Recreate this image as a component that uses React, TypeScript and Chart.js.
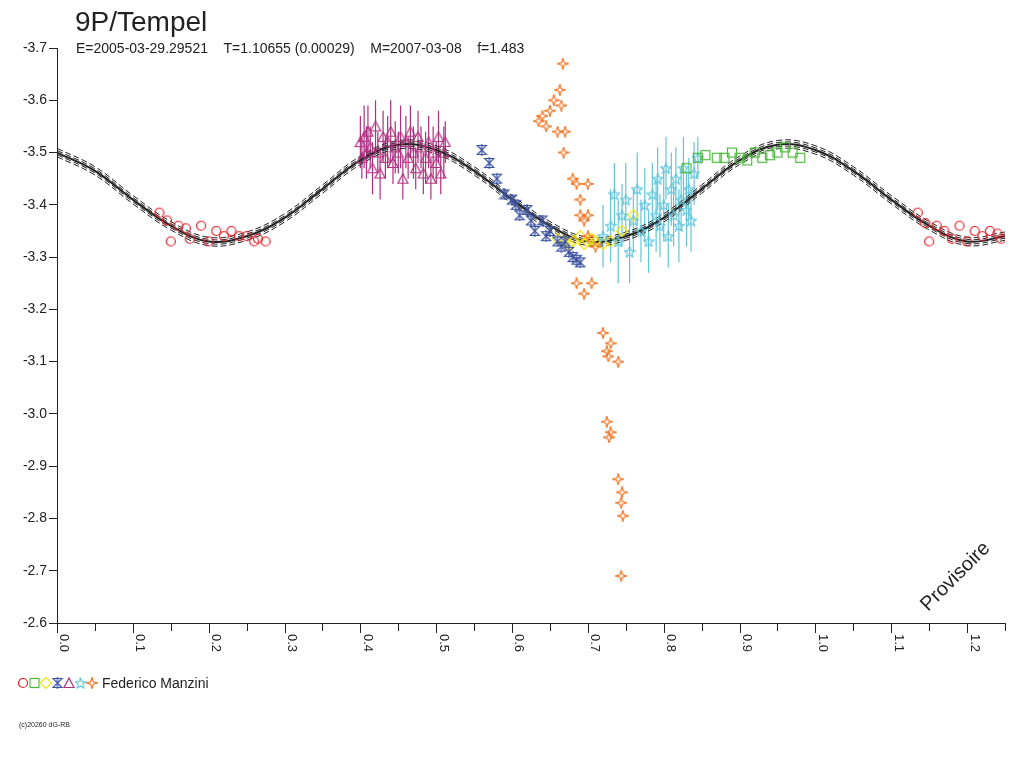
import React, { useEffect, useRef } from "react";
import { Chart, registerables } from "chart.js";
Chart.register(...registerables);

const modelX = [0,0.05,0.1,0.15,0.2,0.25,0.3,0.35,0.4,0.45,0.5,0.55,0.6,0.65,0.7,0.75,0.8,0.85,0.9,0.95,1.0,1.05,1.1,1.15,1.2,1.25];
const modelY = [-3.5,-3.465,-3.41,-3.36,-3.33,-3.34,-3.375,-3.43,-3.485,-3.515,-3.505,-3.465,-3.41,-3.36,-3.33,-3.34,-3.375,-3.43,-3.485,-3.515,-3.505,-3.465,-3.41,-3.36,-3.33,-3.34];
const modelSpread = [0.008, -0.008, 0.004, -0.004, 0];

const redX = [0.135,0.145,0.15,0.16,0.17,0.175,0.19,0.2,0.21,0.22,0.23,0.24,0.25,0.26,0.265,0.275,1.135,1.145,1.15,1.16,1.17,1.18,1.19,1.2,1.21,1.22,1.23,1.24,1.245];
const redY = [-3.385,-3.37,-3.33,-3.36,-3.355,-3.335,-3.36,-3.33,-3.35,-3.34,-3.35,-3.34,-3.34,-3.33,-3.335,-3.33,-3.385,-3.365,-3.33,-3.36,-3.35,-3.335,-3.36,-3.33,-3.35,-3.34,-3.35,-3.345,-3.335];
const greenX = [0.83,0.845,0.855,0.87,0.88,0.89,0.9,0.91,0.92,0.93,0.94,0.95,0.96,0.97,0.98];
const greenY = [-3.47,-3.49,-3.495,-3.49,-3.49,-3.5,-3.49,-3.485,-3.5,-3.49,-3.495,-3.5,-3.51,-3.5,-3.49];
const yellowX = [0.66,0.67,0.675,0.68,0.69,0.695,0.7,0.705,0.71,0.72,0.73,0.745,0.76];
const yellowY = [-3.335,-3.33,-3.325,-3.33,-3.34,-3.325,-3.33,-3.335,-3.33,-3.325,-3.33,-3.35,-3.38];
const blueX = [0.56,0.57,0.58,0.59,0.6,0.605,0.61,0.62,0.625,0.63,0.64,0.645,0.65,0.66,0.665,0.67,0.675,0.68,0.685,0.69];
const blueY = [-3.505,-3.48,-3.45,-3.42,-3.41,-3.4,-3.38,-3.39,-3.37,-3.35,-3.37,-3.34,-3.35,-3.33,-3.32,-3.33,-3.31,-3.3,-3.295,-3.29];
const magX = [0.4,0.402,0.405,0.408,0.41,0.413,0.416,0.42,0.423,0.426,0.43,0.433,0.436,0.44,0.443,0.446,0.45,0.453,0.456,0.46,0.463,0.466,0.47,0.473,0.476,0.48,0.483,0.486,0.49,0.493,0.496,0.5,0.503,0.506,0.51,0.512];
const magY = [-3.52,-3.49,-3.53,-3.5,-3.54,-3.51,-3.47,-3.55,-3.5,-3.46,-3.53,-3.49,-3.52,-3.54,-3.48,-3.51,-3.5,-3.53,-3.45,-3.52,-3.49,-3.54,-3.5,-3.47,-3.53,-3.51,-3.46,-3.49,-3.52,-3.45,-3.5,-3.48,-3.53,-3.46,-3.5,-3.52];
const magErr = [0.05,0.04,0.06,0.05,0.05,0.04,0.05,0.05,0.04,0.05,0.05,0.04,0.05,0.06,0.04,0.05,0.04,0.06,0.04,0.05,0.04,0.05,0.05,0.04,0.05,0.04,0.04,0.05,0.05,0.04,0.05,0.04,0.05,0.04,0.05,0.04];
const cyanX = [0.72,0.73,0.735,0.74,0.745,0.75,0.755,0.76,0.765,0.77,0.775,0.78,0.785,0.79,0.792,0.795,0.8,0.803,0.806,0.81,0.813,0.816,0.82,0.823,0.826,0.83,0.833,0.836,0.84,0.845];
const cyanY = [-3.34,-3.36,-3.42,-3.33,-3.38,-3.41,-3.31,-3.37,-3.43,-3.35,-3.4,-3.33,-3.42,-3.38,-3.45,-3.36,-3.4,-3.47,-3.34,-3.43,-3.38,-3.45,-3.36,-3.41,-3.47,-3.39,-3.43,-3.37,-3.46,-3.49];
const cyanErr = [0.06,0.07,0.06,0.08,0.06,0.07,0.06,0.06,0.07,0.06,0.07,0.06,0.06,0.07,0.06,0.06,0.07,0.06,0.06,0.07,0.06,0.06,0.07,0.06,0.06,0.07,0.06,0.06,0.06,0.04];
const orangeX = [0.635,0.64,0.645,0.65,0.655,0.66,0.663,0.665,0.667,0.67,0.668,0.68,0.685,0.69,0.69,0.695,0.7,0.7,0.7,0.71,0.685,0.695,0.705,0.72,0.725,0.73,0.727,0.74,0.725,0.73,0.728,0.74,0.745,0.744,0.746,0.744];
const orangeY = [-3.56,-3.57,-3.55,-3.58,-3.6,-3.54,-3.62,-3.59,-3.67,-3.54,-3.5,-3.45,-3.44,-3.41,-3.38,-3.37,-3.44,-3.38,-3.34,-3.32,-3.25,-3.23,-3.25,-3.155,-3.12,-3.135,-3.11,-3.1,-2.985,-2.965,-2.955,-2.875,-2.85,-2.83,-2.805,-2.69];

const xMajor = [0,0.1,0.2,0.3,0.4,0.5,0.6,0.7,0.8,0.9,1.0,1.1,1.2];
const xMinor = [0.05,0.15,0.25,0.35,0.45,0.55,0.65,0.75,0.85,0.95,1.05,1.15,1.25];

const FONT = "'Liberation Sans', Arial, sans-serif";

function icon(color: string, draw: (c: CanvasRenderingContext2D) => void) {
  const cv = document.createElement("canvas");
  cv.width = 12; cv.height = 12;
  const c = cv.getContext("2d")!;
  c.strokeStyle = color; c.lineWidth = 1.2;
  draw(c);
  return cv;
}
const icons = {
  circle: (col: string) => icon(col, c => { c.beginPath(); c.arc(6, 6, 4.5, 0, Math.PI * 2); c.stroke(); }),
  square: (col: string) => icon(col, c => c.strokeRect(1.5, 1.5, 9, 9)),
  diamond: (col: string) => icon(col, c => { c.beginPath(); c.moveTo(6, 0.5); c.lineTo(11.5, 6); c.lineTo(6, 11.5); c.lineTo(0.5, 6); c.closePath(); c.stroke(); }),
  triangle: (col: string) => icon(col, c => { c.beginPath(); c.moveTo(6, 1); c.lineTo(11, 10.5); c.lineTo(1, 10.5); c.closePath(); c.stroke(); }),
  star5: (col: string) => icon(col, c => { c.beginPath(); for (let i = 0; i < 10; i++) { const r = i % 2 ? 2.4 : 5.5; const a = -Math.PI / 2 + i * Math.PI / 5; const px = 6 + r * Math.cos(a), py = 6.5 + r * Math.sin(a); i ? c.lineTo(px, py) : c.moveTo(px, py); } c.closePath(); c.stroke(); }),
  star4: (col: string) => icon(col, c => { c.beginPath(); for (let i = 0; i < 8; i++) { const r = i % 2 ? 1.8 : 5.5; const a = -Math.PI / 2 + i * Math.PI / 4; const px = 6 + r * Math.cos(a), py = 6 + r * Math.sin(a); i ? c.lineTo(px, py) : c.moveTo(px, py); } c.closePath(); c.stroke(); }),
  bowtie: (col: string) => icon(col, c => { c.beginPath(); c.moveTo(1.5, 1.5); c.lineTo(10.5, 1.5); c.lineTo(1.5, 10.5); c.lineTo(10.5, 10.5); c.closePath(); c.stroke(); c.beginPath(); c.moveTo(6, 0); c.lineTo(6, 12); c.stroke(); }),
};

const RED = "#e8202a", GREEN = "#4cb83a", YELLOW = "#f4e410", BLUE = "#3a50a0", MAG = "#b03080", CYAN = "#62c6da", ORANGE = "#f07828";

const pts = (xs: number[], ys: number[]) => xs.map((x, i) => ({ x, y: ys[i] }));

export default function App() {
  const ref = useRef<HTMLCanvasElement>(null);
  useEffect(() => {
    const icn = {
      r: icons.circle(RED), g: icons.square(GREEN), y: icons.diamond(YELLOW), b: icons.bowtie(BLUE),
      m: icons.triangle(MAG), c: icons.star5(CYAN), o: icons.star4(ORANGE),
    };
    const scatter = (data: any, img: any, color: string, err?: number[]) => ({
      type: "scatter", data, pointStyle: img, pointRadius: 6, borderColor: color, backgroundColor: color, showLine: false, err, errColor: color, order: 1,
    });
    const modelSets = modelSpread.map((d, k) => ({
      type: "line", data: modelX.map((x, i) => ({ x, y: modelY[i] + d })), borderColor: "#222", borderWidth: k === 4 ? 2 : 1,
      borderDash: k === 4 ? [] : [6, 3], pointRadius: 0, tension: 0.4, fill: false, order: 2,
    }));
    const errPlugin = {
      id: "err",
      beforeDatasetsDraw(chart: any) {
        const { ctx, scales } = chart;
        chart.data.datasets.forEach((ds: any) => {
          if (!ds.err) return;
          ctx.save(); ctx.strokeStyle = ds.errColor; ctx.lineWidth = 1.2;
          ds.data.forEach((p: any, i: number) => {
            const x = scales.x.getPixelForValue(p.x);
            ctx.beginPath();
            ctx.moveTo(x, scales.y.getPixelForValue(p.y - ds.err[i]));
            ctx.lineTo(x, scales.y.getPixelForValue(p.y + ds.err[i]));
            ctx.stroke();
          });
          ctx.restore();
        });
      },
    };
    const deco = {
      id: "deco",
      afterDraw(chart: any) {
        const { ctx, scales } = chart;
        const xs = scales.x; const yb = chart.chartArea.bottom;
        ctx.save();
        ctx.strokeStyle = "#222"; ctx.lineWidth = 1; ctx.fillStyle = "#222";
        ctx.beginPath(); ctx.moveTo(chart.chartArea.left - 8, yb + 0.5); ctx.lineTo(chart.chartArea.right, yb + 0.5); ctx.stroke();
        xMajor.concat(xMinor).forEach(v => {
          const px = Math.round(xs.getPixelForValue(v)) + 0.5;
          ctx.beginPath(); ctx.moveTo(px, yb); ctx.lineTo(px, yb + (xMajor.includes(v) ? 10 : 8)); ctx.stroke();
        });
        ctx.font = `13px ${FONT}`; ctx.textBaseline = "middle"; ctx.textAlign = "left";
        xMajor.forEach(v => {
          const px = xs.getPixelForValue(v);
          ctx.save(); ctx.translate(px + 1, yb + 11); ctx.rotate(Math.PI / 2); ctx.fillText(v.toFixed(1), 0, -6); ctx.restore();
        });
        ctx.font = `28px ${FONT}`; ctx.textBaseline = "alphabetic";
        ctx.fillText("9P/Tempel", 75, 31);
        ctx.font = `14px ${FONT}`;
        ctx.fillText("E=2005-03-29.29521    T=1.10655 (0.00029)    M=2007-03-08    f=1.483", 76, 53);
        ctx.save(); ctx.translate(928, 612); ctx.rotate(-Math.PI / 4); ctx.font = `20px ${FONT}`; ctx.fillText("Provisoire", 0, 0); ctx.restore();
        [icn.r, icn.g, icn.y, icn.b, icn.m, icn.c, icn.o].forEach((im, i) => ctx.drawImage(im, 17 + i * 11.5, 677));
        ctx.font = `14px ${FONT}`; ctx.fillText("Federico Manzini", 102, 688);
        ctx.font = `7px ${FONT}`; ctx.fillText("(c)20260 dG-RB", 19, 727);
        ctx.restore();
      },
    };
    const chart = new Chart(ref.current!, {
      type: "scatter",
      data: {
        datasets: [
          ...modelSets,
          scatter(pts(redX, redY), icn.r, RED),
          scatter(pts(greenX, greenY), icn.g, GREEN),
          scatter(pts(blueX, blueY), icn.b, BLUE),
          scatter(pts(magX, magY), icn.m, MAG, magErr),
          scatter(pts(cyanX, cyanY), icn.c, CYAN, cyanErr),
          scatter(pts(orangeX, orangeY), icn.o, ORANGE),
          scatter(pts(yellowX, yellowY), icn.y, YELLOW),
        ] as any,
      },
      options: {
        responsive: false, animation: false, events: [],
        layout: { padding: { top: 48, left: 0, right: 19, bottom: 0 } },
        plugins: { legend: { display: false }, tooltip: { enabled: false } },
        scales: {
          x: {
            type: "linear", min: 0, max: 1.25,
            grid: { display: false, drawTicks: false },
            border: { display: false },
            ticks: { display: false },
            afterFit: (s: any) => { s.height = 145; },
          },
          y: {
            type: "linear", min: -3.7, max: -2.6, reverse: true,
            grid: { drawOnChartArea: false, drawTicks: true, tickLength: 8, color: "#222" },
            border: { display: true, color: "#222" },
            ticks: { stepSize: 0.1, color: "#222", font: { family: FONT, size: 14 }, padding: 2, callback: (v: any) => Number(v).toFixed(1) },
            afterFit: (s: any) => { s.width = 57; },
          },
        },
      } as any,
      plugins: [errPlugin, deco],
    });
    return () => chart.destroy();
  }, []);
  return <canvas ref={ref} width={1024} height={768} style={{ position: "absolute", left: 0, top: 0 }} />;
}
